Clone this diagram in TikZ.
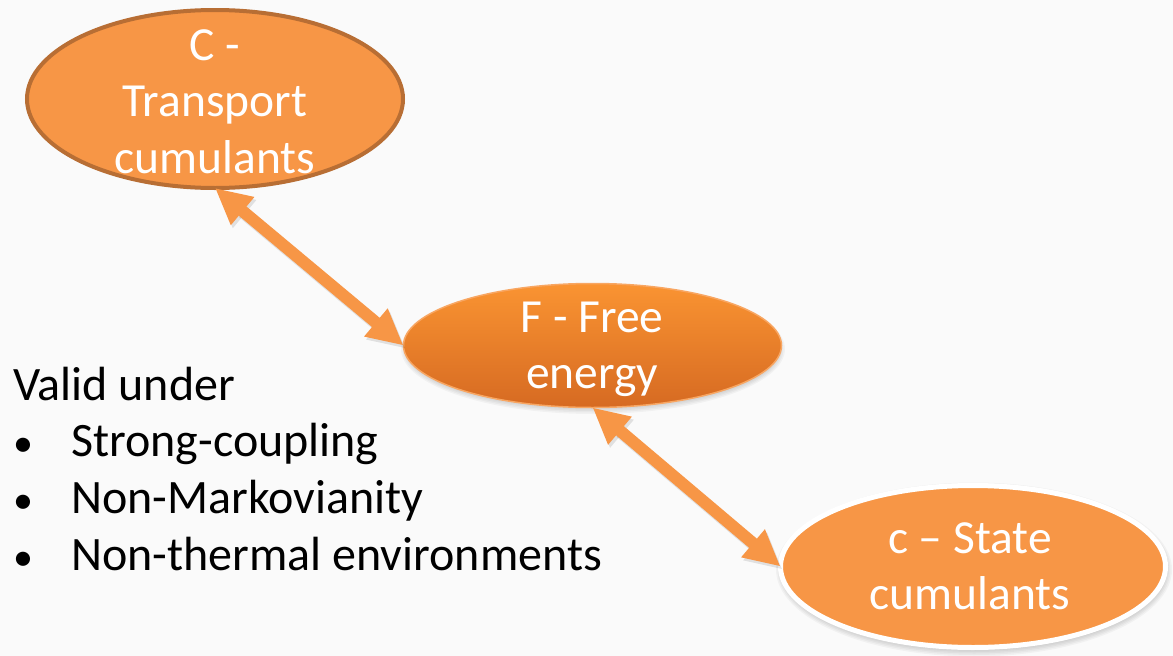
\documentclass[tikz,border=0pt]{standalone}
\usepackage{fontspec}
\setmainfont{Carlito}
\usetikzlibrary{shapes.geometric,arrows.meta}

\definecolor{paper}{RGB}{250,250,250}
\definecolor{accent}{RGB}{247,150,70}
\definecolor{rim}{RGB}{184,110,52}
\definecolor{gradtop}{RGB}{250,148,50}
\definecolor{gradbot}{RGB}{214,106,34}

\newcommand\listdot{\makebox[58pt][l]{\fontsize{40}{40}\selectfont •}}

% soft drop shadow under an ellipse: centre, x radius, y radius
\newcommand\softshadow[4]{%
  \foreach \g in {0,1.5,3,4.5,6}
    \fill[black, opacity=0.035] (#1,#2) ellipse [x radius=#3+\g, y radius=#4+\g];}

\tikzset{
  bubble/.style={ellipse, inner sep=0pt, outer sep=0pt},
  bubbletext/.style={inner sep=0pt, anchor=base, text=white,
    font=\fontsize{47.5}{56.7}\selectfont},
  listtext/.style={inner sep=0pt, anchor=base west, text=black,
    font=\fontsize{48}{56.7}\selectfont},
  link/.style={line width=12pt, accent,
    {Triangle[length=36pt,width=34pt]}-{Triangle[length=36pt,width=34pt]}},
  linkshadow/.style={line width=12pt, black, opacity=0.10,
    {Triangle[length=36pt,width=34pt]}-{Triangle[length=36pt,width=34pt]}},
}

\begin{document}
\begin{tikzpicture}[x=1pt,y=-1pt]
  % page
  \fill[paper] (0,0) rectangle (1173,656);
  \useasboundingbox (0,0) rectangle (1173,656);

  % shadows below the lower two ellipses
  \softshadow{593}{349}{186}{59}
  \softshadow{974}{569.5}{192}{81}

  % the three quantities
  \node[bubble, fill=accent, draw=rim, line width=4pt,
        minimum width=376pt, minimum height=178pt] (C) at (215,99) {};
  \node[bubble, top color=gradtop, bottom color=gradbot,
        draw=accent!85!white, line width=1.5pt,
        minimum width=378pt, minimum height=124pt] (F) at (592.5,345.5) {};
  \node[bubble, fill=accent, draw=white, line width=5pt,
        minimum width=385pt, minimum height=162pt] (c) at (973,566.5) {};

  % labels inside the ellipses
  \node[bubbletext] (Ctext) at (215,60)
    {\begin{tabular}[t]{@{}c@{}}C -\\Transport\\cumulants\end{tabular}};
  \node[bubbletext] (Ftext) at (592,332)
    {\begin{tabular}[t]{@{}c@{}}F - Free\\energy\end{tabular}};
  \node[bubbletext] (ctext) at (970,553)
    {\begin{tabular}[t]{@{}c@{}}c – State\\cumulants\end{tabular}};

  % two-way links
  \begin{scope}[transform canvas={shift={(2pt,-3pt)}}]
    \draw[linkshadow] (C.south) -- (F.west);
    \draw[linkshadow] (F.south) -- (c.west);
  \end{scope}
  \draw[link] (C.south) -- (F.west);
  \draw[link] (F.south) -- (c.west);

  % validity list
  \node[listtext] (valid) at (13,400)
    {\begin{tabular}[t]{@{}l@{}}
      Valid under\\
      \listdot Strong-coupling\\
      \listdot Non-Markovianity\\
      \listdot Non-thermal environments
    \end{tabular}};
\end{tikzpicture}
\end{document}
